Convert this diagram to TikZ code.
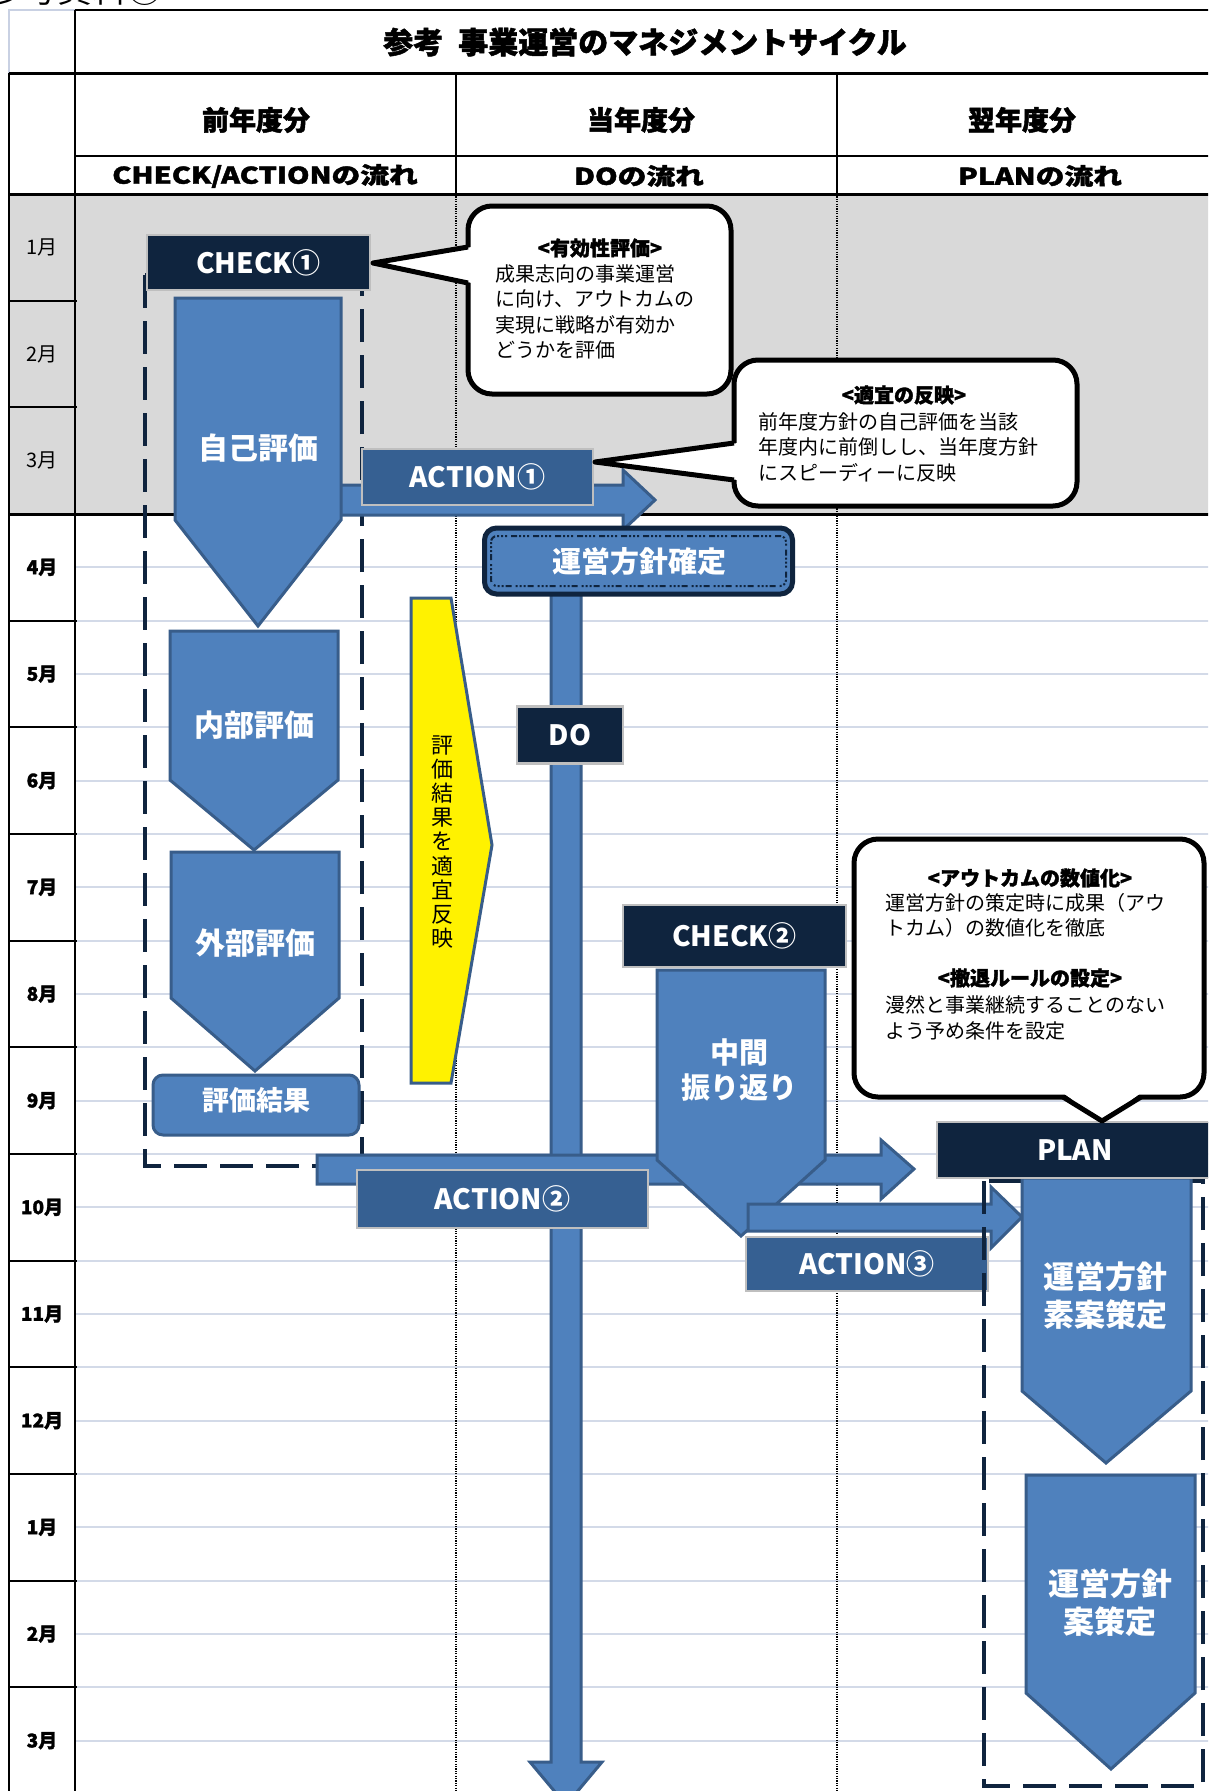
\documentclass[tikz,border=0pt]{standalone}
\usepackage{fontspec}
\setmainfont{Noto Sans CJK JP}
\definecolor{navy}{HTML}{0F243E}
\definecolor{actblue}{HTML}{366092}
\definecolor{arrowblue}{HTML}{4F81BD}
\definecolor{arrowborder}{HTML}{385D8A}
\definecolor{boxgray}{HTML}{BFBFBF}
\definecolor{bandgray}{HTML}{D9D9D9}
\definecolor{rowlinecol}{HTML}{D3DAE8}
\definecolor{topgray}{HTML}{C9D1E3}
\newcommand\myfs[1]{\fontsize{#1}{#1}\selectfont}
\newcommand\myfsb[2]{\fontsize{#1}{#2}\selectfont}
\newcommand\heavy{\bfseries\addfontfeature{FakeBold=1.6}}
\begin{document}
\begin{tikzpicture}[x=1pt,y=-1pt,
  arrowshape/.style={fill=arrowblue,draw=arrowborder,line width=3pt,line join=miter},
  navybox/.style={fill=navy,draw=boxgray,line width=2.5pt,inner sep=0pt,text=white,font=\bfseries\myfs{28}},
  actbox/.style={fill=actblue,draw=boxgray,line width=2.5pt,inner sep=0pt,text=white,font=\bfseries\myfs{28}},
  wlabel/.style={text=white,font=\bfseries\myfsb{30}{36},align=center,inner sep=0pt},
  grpdash/.style={draw=navy,line width=4.5pt,dash pattern=on 33pt off 13pt},
  calloutbox/.style={fill=white,draw=black,line width=5pt,rounded corners=24pt},
  wedgeline/.style={draw=black,line width=5pt,line join=round},
  callouttxt/.style={font=\myfsb{20}{25.5},align=left,inner sep=0pt,anchor=west},
  callouttitle/.style={font=\heavy\myfs{20},inner sep=0pt},
  monthlbl/.style={font=\heavy\myfs{19},inner sep=0pt},
  monthlblr/.style={font=\myfs{20},inner sep=0pt},
  rowline/.style={draw=rowlinecol,line width=2pt},
  hdr/.style={font=\heavy\myfs{27},inner sep=0pt},
  hdrs/.style={font=\heavy\myfs{23},inner sep=0pt}
]
\useasboundingbox (0,0) rectangle (1208,1791);
\clip (0,0) rectangle (1208,1791);
\fill[white] (0,0) rectangle (1208,1791);

% partially visible text at top (cut off in the reference too)
\node[anchor=base west,font=\myfs{35},inner sep=0pt] (doc) at (-13,2) {参考資料⑥};

% gray band
\fill[bandgray] (9,194) rectangle (1210,514);

% light row lines
\foreach \k in {1,...,24} \draw[rowline] (76,{514+\k*53.333}) -- (1210,{514+\k*53.333});

% dotted column lines
\draw[black,line width=1.2pt,dash pattern=on 1.2pt off 1.2pt] (456,194) -- (456,1795);
\draw[black,line width=1.2pt,dash pattern=on 1.2pt off 1.2pt] (837,194) -- (837,1795);

% table grid
\draw[topgray,line width=1.5pt] (9,73) -- (9,10) -- (75,10);
\draw[black,line width=2pt] (75,10) -- (1210,10);
\draw[black,line width=3pt] (9,73) -- (1210,73);
\draw[black,line width=2.5pt] (75,156) -- (1210,156);
\draw[black,line width=3pt] (9,194) -- (1210,194);
\draw[black,line width=3pt] (9,514) -- (1210,514);
\draw[black,line width=1.2pt] (456,73) -- (456,194);
\draw[black,line width=1.2pt] (837,73) -- (837,194);
\draw[black,line width=2.5pt] (75,10) -- (75,1795);
\draw[black,line width=2.5pt] (9,73) -- (9,1795);
\foreach \k in {1,...,14} \draw[black,line width=2pt] (9,{194+\k*106.667}) -- (77,{194+\k*106.667});

% headers
\node[font=\heavy\myfs{30},inner sep=0pt] (title) at (645,42) {参考\hspace{0.5em}事業運営のマネジメントサイクル};
\node[hdr] (h1) at (256,120) {前年度分};
\node[hdr] (h2) at (641,120) {当年度分};
\node[hdr] (h3) at (1022,120) {翌年度分};
\node[hdrs] (s1) at (265,176) {\scalebox{1.25}[1]{CHECK/ACTIONの流れ}};
\node[hdrs] (s2) at (639,176) {\scalebox{1.25}[1]{DOの流れ}};
\node[hdrs] (s3) at (1040,176) {\scalebox{1.25}[1]{PLANの流れ}};

% month labels
\foreach \m [count=\i from 0] in {1月,2月,3月}
  \node[monthlblr] (m\i) at (42,{194+(\i+0.5)*106.667}) {\m};
\foreach \m [count=\i from 3] in {4月,5月,6月,7月,8月,9月,10月,11月,12月,1月,2月,3月}
  \node[monthlbl] (m\i) at (42,{194+(\i+0.5)*106.667}) {\m};

% ===== CHECK/ACTION column =====
\draw[grpdash] (145,275) rectangle (362,1166);

% ACTION1 arrow
\draw[arrowshape] (335,485) -- (623,485) -- (623,470) -- (655,500) -- (623,530) -- (623,515) -- (335,515) -- cycle;

% evaluation arrows
\draw[arrowshape] (175,298) -- (341,298) -- (341,520) -- (258,626) -- (175,520) -- cycle;
\node[wlabel] (jiko) at (258,448) {自己評価};
\draw[arrowshape] (170,631) -- (338,631) -- (338,780) -- (254,850) -- (170,780) -- cycle;
\node[wlabel] (naibu) at (254,725) {内部評価};
\draw[arrowshape] (171,852) -- (339,852) -- (339,998) -- (255,1071) -- (171,998) -- cycle;
\node[wlabel] (gaibu) at (255,943) {外部評価};
\node[arrowshape,rounded corners=10pt,minimum width=206pt,minimum height=60pt,inner sep=0pt] (kekka) at (256,1105) {};
\node[text=white,font=\bfseries\myfs{27},inner sep=0pt] (kekkat) at (256,1100) {評価結果};

\node[navybox,minimum width=223pt,minimum height=55pt] (chk1) at (258.5,262.5) {CHECK①};
\node[actbox,minimum width=231pt,minimum height=56pt] (act1) at (477.5,477) {ACTION①};

% callout 1
\draw[calloutbox] (468,206) rectangle (731,394);
\fill[white] (472,247) -- (373,263) -- (472,283) -- cycle;
\draw[wedgeline] (468,247) -- (373,263) -- (468,283);
\node[callouttitle] (c1t) at (600,248) {<有効性評価>};
\node[callouttxt] (c1b) at (495,312) {成果志向の事業運営\\に向け、アウトカムの\\実現に戦略が有効か\\どうかを評価};

% callout 2
\draw[calloutbox] (734,360) rectangle (1077,506);
\fill[white] (738,443) -- (595,462) -- (738,480) -- cycle;
\draw[wedgeline] (734,443) -- (595,462) -- (734,480);
\node[callouttitle] (c2t) at (904,395) {<適宜の反映>};
\node[callouttxt] (c2b) at (758,447) {前年度方針の自己評価を当該\\年度内に前倒しし、当年度方針\\にスピーディーに反映};

% ===== DO column =====
\draw[arrowshape] (551,590) -- (581,590) -- (581,1762) -- (602,1762) -- (566,1805) -- (530,1762) -- (551,1762) -- cycle;
\node[fill=arrowblue,draw=navy,line width=5pt,rounded corners=12pt,minimum width=308pt,minimum height=66pt,inner sep=0pt] (kakutei) at (638.5,561) {};
\draw[navy,line width=2pt,dash pattern=on 2pt off 2pt on 2pt off 2pt on 2pt off 2pt on 6pt off 4pt,rounded corners=6pt] (491,536) rectangle (786,586);
\node[wlabel,font=\bfseries\myfs{29}] (kakuteit) at (639,562) {運営方針確定};
\node[navybox,minimum width=106pt,minimum height=57pt] (do) at (570,735) {DO};

% yellow reflection shape
\draw[fill=yellow,draw=arrowborder,line width=3pt,line join=miter] (411,598) -- (451,598) -- (492,845) -- (451,1083) -- (411,1083) -- cycle;
\node[font=\myfsb{22}{24.1},align=center,inner sep=0pt] (hanei) at (442,842) {評\\価\\結\\果\\を\\適\\宜\\反\\映};

% ACTION2 arrow
\draw[arrowshape] (317,1155) -- (881,1155) -- (881,1140) -- (914,1169) -- (881,1199) -- (881,1184) -- (317,1184) -- cycle;

% CHECK2 mid-review
\draw[arrowshape] (657,970) -- (825,970) -- (825,1160) -- (741,1236) -- (657,1160) -- cycle;
\node[wlabel,font=\bfseries\myfsb{29}{35}] (chukan) at (739,1070) {中間\\振り返り};

% ACTION3 arrow
\draw[arrowshape] (748,1204) -- (991,1204) -- (991,1187) -- (1022,1217) -- (991,1248) -- (991,1231) -- (748,1231) -- cycle;

\node[navybox,minimum width=223pt,minimum height=62pt] (chk2) at (734.5,936) {CHECK②};
\node[actbox,minimum width=291pt,minimum height=58pt] (act2) at (502.5,1199) {ACTION②};
\node[actbox,minimum width=242pt,minimum height=54pt] (act3) at (867,1264) {ACTION③};

% ===== PLAN column =====
\draw[grpdash] (984,1181) rectangle (1203,1786);
\draw[arrowshape] (1022,1178) -- (1191,1178) -- (1191,1391) -- (1106,1463) -- (1022,1391) -- cycle;
\node[wlabel,font=\bfseries\myfsb{31}{38}] (soan) at (1105,1296) {運営方針\\素案策定};
\draw[arrowshape] (1026,1475) -- (1195,1475) -- (1195,1693) -- (1111,1769) -- (1026,1693) -- cycle;
\node[wlabel,font=\bfseries\myfsb{31}{38}] (an) at (1110,1603) {運営方針\\案策定};
\node[navybox,minimum width=280pt,minimum height=56pt] (plan) at (1077,1150) {};
\node[text=white,font=\bfseries\myfs{28},inner sep=0pt] (plant) at (1075,1150) {PLAN};

% callout 3
\draw[calloutbox] (854,839) rectangle (1204,1097);
\fill[white] (1063,1093) -- (1102,1121) -- (1141,1093) -- cycle;
\draw[wedgeline] (1063,1097) -- (1102,1121) -- (1141,1097);
\node[callouttitle] (c3t) at (1030,878) {<アウトカムの数値化>};
\node[callouttxt] (c3b) at (885,915.5) {運営方針の策定時に成果（アウ\\トカム）の数値化を徹底};
\node[callouttitle] (c3t2) at (1030,978) {<撤退ルールの設定>};
\node[callouttxt] (c3b2) at (885,1018) {漫然と事業継続することのない\\よう予め条件を設定};
\end{tikzpicture}
\end{document}
